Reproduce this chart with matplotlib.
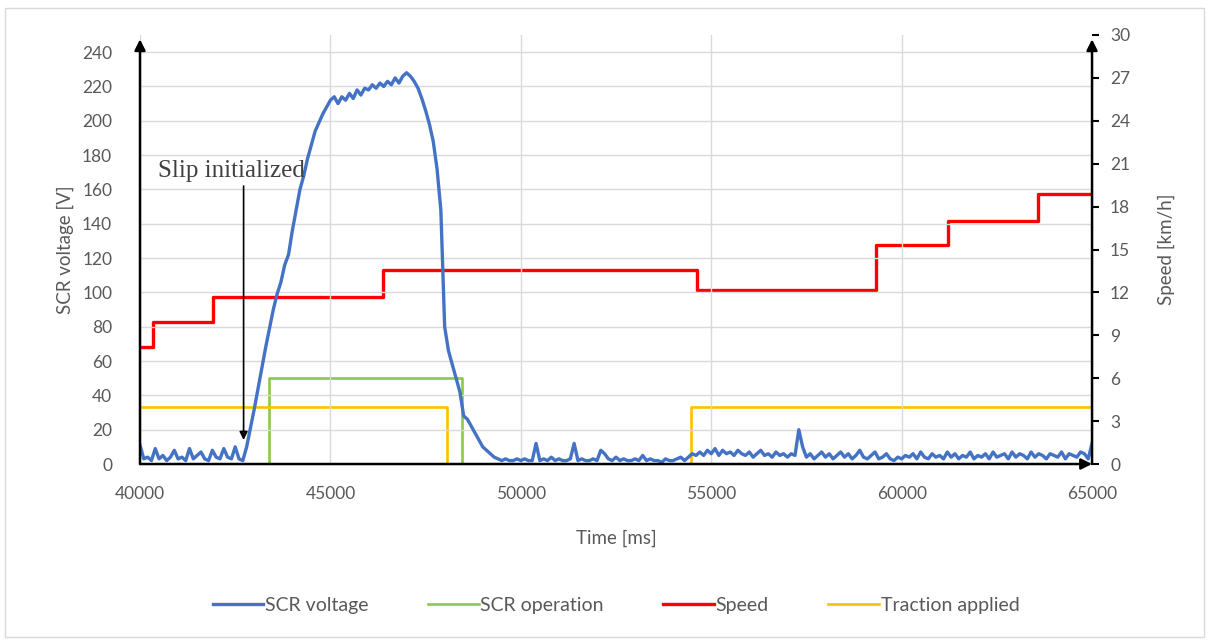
import numpy as np
import matplotlib
matplotlib.use("Agg")
import matplotlib.pyplot as plt
from matplotlib.patches import Rectangle

# Dane
scr_t = np.arange(40000, 65001, 100)
scr_voltage = [
    11, 3, 4, 2, 9, 3, 5, 2, 4, 8,
    3, 4, 2, 9, 3, 5, 7, 3, 2, 8,
    4, 3, 9, 4, 3, 10, 3, 2, 10, 21,
    32, 44, 56, 68, 79, 90, 99, 106, 116, 122,
    136, 148, 160, 168, 178, 186, 194, 199, 204, 208,
    212, 214, 210, 214, 212, 216, 213, 218, 215, 219,
    218, 221, 219, 222, 220, 223, 221, 225, 222, 226,
    228, 226, 223, 219, 213, 206, 198, 188, 172, 148,
    80, 66, 58, 50, 42, 28, 26, 22, 18, 14,
    10, 8, 6, 4, 3, 2, 3, 2, 2, 3,
    2, 3, 2, 2, 12, 2, 3, 2, 4, 2,
    3, 2, 2, 3, 12, 2, 3, 2, 2, 3,
    2, 8, 6, 3, 2, 4, 2, 3, 2, 2,
    3, 2, 5, 2, 3, 2, 2, 1, 3, 2,
    2, 3, 4, 2, 4, 6, 5, 7, 5, 8,
    6, 9, 5, 8, 6, 7, 5, 8, 6, 5,
    7, 4, 6, 8, 5, 6, 4, 7, 5, 6,
    4, 6, 5, 20, 10, 4, 6, 3, 5, 7,
    4, 6, 3, 5, 7, 4, 6, 3, 5, 8,
    4, 3, 5, 7, 3, 4, 6, 3, 2, 4,
    3, 5, 4, 6, 3, 7, 4, 3, 6, 4,
    5, 3, 7, 4, 6, 3, 5, 4, 7, 3,
    5, 4, 6, 3, 7, 4, 5, 6, 3, 7,
    4, 6, 5, 3, 7, 4, 6, 5, 3, 6,
    5, 4, 7, 3, 6, 5, 4, 7, 6, 3,
    12,
]

op_t = [40000, 43380, 48450, 65000]
scr_operation = [0, 6, 0, 0]

speed_t = [40000, 40340, 41920, 46380, 54630, 59330, 61220, 63580, 65000]
speed = [8.2, 9.9, 11.7, 13.55, 12.2, 15.35, 17.0, 18.9, 18.9]

traction_t = [40000, 48050, 54480, 65000]
traction = [4, 0, 4, 4]

plt.rcParams['font.family'] = ['Lato', 'DejaVu Sans']
gray = '#595959'

fig = plt.figure(figsize=(12.08, 6.41), dpi=100)
ax = fig.add_axes([0.1159, 0.2761, 0.7881, 0.6693])
ax2 = ax.twinx()

# Linie na prawej osi (predkosc, sygnaly)
l_op, = ax2.plot(op_t, scr_operation, drawstyle='steps-post', color='#8cc84b', lw=1.9)
l_sp, = ax2.plot(speed_t, speed, drawstyle='steps-post', color='#ff0000', lw=2.4)
l_tr, = ax2.plot(traction_t, traction, drawstyle='steps-post', color='#ffc000', lw=1.9)

# Napiecie SCR na lewej osi, nad pozostalymi
ax.set_zorder(ax2.get_zorder() + 1)
ax.patch.set_visible(False)
ax2.patch.set_facecolor('white')
l_v, = ax.plot(scr_t, scr_voltage, color='#4472c4', lw=2.4)

ax.set_xlim(40000, 65000)
ax.set_ylim(0, 250)
ax2.set_ylim(0, 30)
ax.set_yticks(range(0, 241, 20))
ax2.set_yticks(range(0, 31, 3))
ax.set_xticks(range(40000, 65001, 5000))

ax2.grid(False)
ax.grid(True, color='#d9d9d9', lw=1.0)
ax.set_axisbelow(True)

for a in (ax, ax2):
    for s in a.spines.values():
        s.set_visible(False)

ax.tick_params(axis='both', length=0, labelsize=12.5, labelcolor=gray)
ax.tick_params(axis='y', pad=20)
ax.tick_params(axis='x', pad=16)
ax2.tick_params(axis='y', length=5, width=1.5, color='black', labelsize=12.5,
                labelcolor=gray, pad=8)

ax.set_xlabel('Time [ms]', fontsize=13.5, color=gray, labelpad=20)
ax.set_ylabel('SCR voltage [V]', fontsize=13.5, color=gray, labelpad=6)
ax2.set_ylabel('Speed [km/h]', fontsize=13.5, color=gray, labelpad=20)

# Strzalki osi
arrow = dict(arrowstyle='-|>', color='black', lw=1.8, mutation_scale=16, shrinkA=0, shrinkB=0)
ax.annotate('', xy=(0, 0.99), xytext=(0, 0), xycoords='axes fraction', arrowprops=arrow)
ax.annotate('', xy=(1, 0.99), xytext=(1, 0), xycoords='axes fraction', arrowprops=arrow)
ax.annotate('', xy=(1.0, 0), xytext=(0, 0), xycoords='axes fraction', arrowprops=arrow)

# Adnotacja poslizgu
ax.annotate('', xy=(42720, 14), xytext=(42720, 162),
            arrowprops=dict(arrowstyle='-|>', color='black', lw=1.2, mutation_scale=12,
                            shrinkA=0, shrinkB=0))
ax.text(40470, 171, 'Slip initialized', family='Liberation Serif', fontsize=18,
        color='#404040', va='center', ha='left')

fig.legend([l_v, l_op, l_sp, l_tr],
           ['SCR voltage', 'SCR operation', 'Speed', 'Traction applied'],
           loc='center', bbox_to_anchor=(0.51, 0.056), ncol=4, frameon=False,
           fontsize=14, labelcolor=gray, handlelength=2.6, handletextpad=0.1,
           columnspacing=3.05)

fig.patches.append(Rectangle((0.004, 0.006), 0.993, 0.981, transform=fig.transFigure,
                             fill=False, edgecolor='#d9d9d9', lw=1.0))

fig.savefig('out.png', dpi=100)
